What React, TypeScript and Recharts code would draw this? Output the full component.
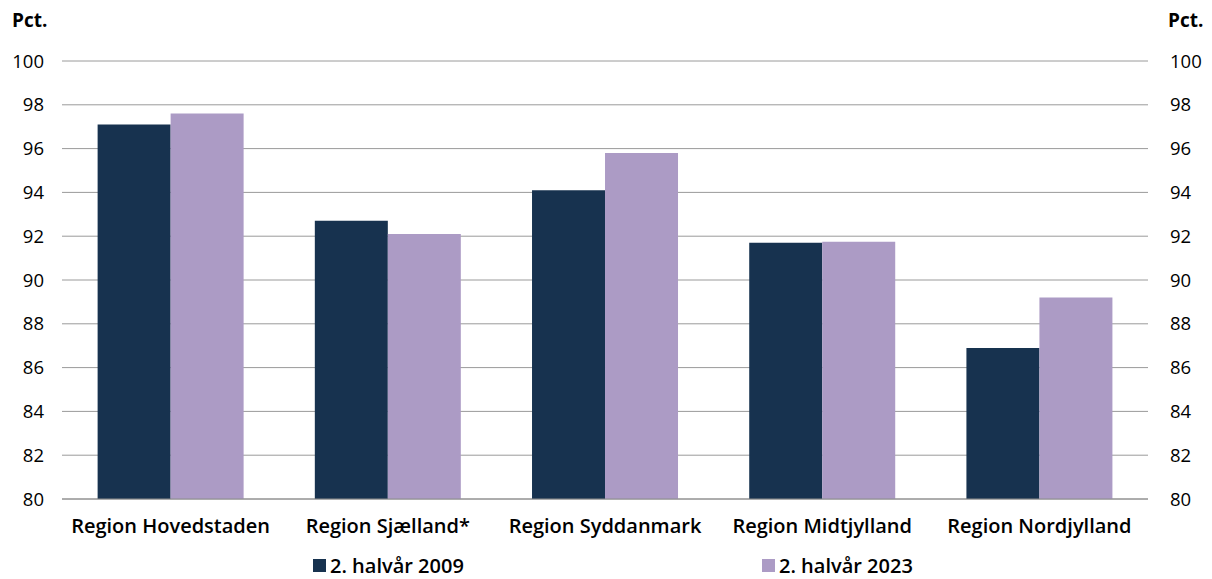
import { ComposedChart, Bar, Line, XAxis, YAxis, CartesianGrid } from 'recharts';

const regions = ['Region Hovedstaden', 'Region Sjælland*', 'Region Syddanmark', 'Region Midtjylland', 'Region Nordjylland'];
const values2009 = [97.1, 92.7, 94.1, 91.7, 86.9];
const values2023 = [97.6, 92.1, 95.8, 91.75, 89.2];
const yTicks = [80, 82, 84, 86, 88, 90, 92, 94, 96, 98, 100];
const seriesNames = ['2. halvår 2009', '2. halvår 2023'];

const data = regions.map((name, i) => ({ name, v2009: values2009[i], v2023: values2023[i] }));

const COLORS = ['#17324F', '#AC9BC5'];
const FONT = '"Open Sans", "Noto Sans", sans-serif';

export default function App() {
    const tick = { fill: '#000', fontSize: 18.5, fontFamily: FONT };
    return (
        <div style={{ position: 'absolute', left: 0, top: 0, width: 1212, height: 579, fontFamily: FONT }}>
            <ComposedChart
                width={1212}
                height={579}
                data={data}
                margin={{ top: 61, right: 0, left: 0, bottom: 40 }}
                barCategoryGap="16.4%"
                barGap={0}
            >
                <CartesianGrid vertical={false} stroke="#9a9a9a" yAxisId="left" />
                <XAxis
                    dataKey="name"
                    height={40}
                    axisLine={{ stroke: '#8c8c8c' }}
                    tickLine={false}
                    tickMargin={14}
                    interval={0}
                    tick={{ fill: '#000', fontSize: 20, fontWeight: 600, fontFamily: FONT }}
                />
                <YAxis
                    yAxisId="left"
                    width={62}
                    domain={[80, 100]}
                    ticks={yTicks}
                    axisLine={false}
                    tickLine={false}
                    tickMargin={12}
                    tick={tick}
                />
                <YAxis
                    yAxisId="right"
                    orientation="right"
                    width={64}
                    domain={[80, 100]}
                    ticks={yTicks}
                    axisLine={false}
                    tickLine={false}
                    tickMargin={16}
                    tick={{ ...tick, textAnchor: 'start' }}
                />
                <Bar yAxisId="left" dataKey="v2009" name={seriesNames[0]} fill={COLORS[0]} isAnimationActive={false} />
                <Bar yAxisId="left" dataKey="v2023" name={seriesNames[1]} fill={COLORS[1]} isAnimationActive={false} />
                {/* invisible series so the mirrored right axis is drawn */}
                <Line yAxisId="right" dataKey="v2009" stroke="none" dot={false} activeDot={false} legendType="none" isAnimationActive={false} />
            </ComposedChart>

            <div style={{ position: 'absolute', left: 12, top: 7, fontSize: 19, fontWeight: 700 }}>Pct.</div>
            <div style={{ position: 'absolute', left: 1168, top: 7, fontSize: 19, fontWeight: 700 }}>Pct.</div>

            {seriesNames.map((s, i) => (
                <div
                    key={s}
                    style={{
                        position: 'absolute',
                        left: i === 0 ? 313 : 762,
                        top: 552,
                        display: 'flex',
                        alignItems: 'center',
                        fontSize: 20,
                        fontWeight: 600,
                        whiteSpace: 'nowrap',
                    }}
                >
                    <span style={{ display: 'inline-block', width: 13, height: 13, background: COLORS[i], marginRight: 4 }} />
                    {s}
                </div>
            ))}
        </div>
    );
}
